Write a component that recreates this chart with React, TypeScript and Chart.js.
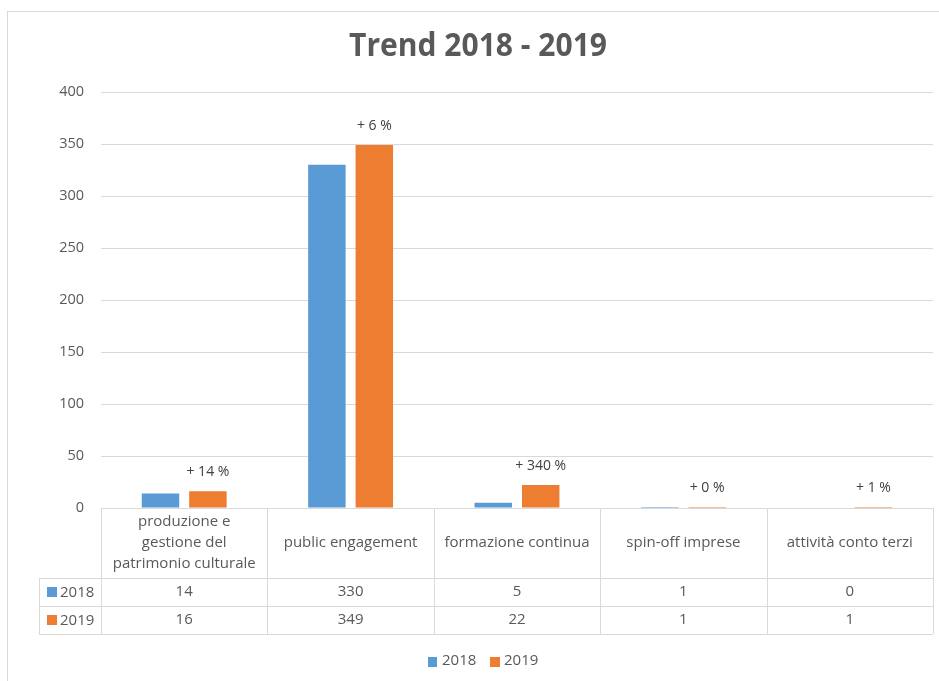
import React, { useEffect, useRef } from "react";
import { Chart, registerables } from "chart.js";

Chart.register(...registerables);

const categories: string[][] = [
  ["produzione e", "gestione del", "patrimonio culturale"],
  ["public engagement"],
  ["formazione continua"],
  ["spin-off imprese"],
  ["attività conto terzi"],
];
const seriesNames = ["2018", "2019"];
const values2018 = [14, 330, 5, 1, 0];
const values2019 = [16, 349, 22, 1, 1];
const changeLabels = ["+ 14 %", "+ 6 %", "+ 340 %", "+ 0 %", "+ 1 %"];
const yTicks = [0, 50, 100, 150, 200, 250, 300, 350, 400];
const title = "Trend 2018 - 2019";

const BLUE = "#5b9bd5";
const ORANGE = "#ed7d31";
const TEXT = "#595959";
const GRID = "#d9d9d9";
const BODY_FONT = "'Open Sans', 'Noto Sans', sans-serif";

// draw text horizontally condensed to mimic a narrow font
function drawCondensed(ctx: any, text: string, cx: number, cy: number, targetW: number) {
  const w = ctx.measureText(text).width;
  const s = Math.min(1, targetW / w);
  ctx.save();
  ctx.translate(cx, cy);
  ctx.scale(s, 1);
  ctx.fillText(text, 0, 0);
  ctx.restore();
}

const overlayPlugin = {
  id: "overlay",
  beforeDraw(chart: any) {
    const ctx = chart.ctx;
    ctx.save();
    ctx.fillStyle = "#ffffff";
    ctx.fillRect(0, 0, chart.width, chart.height);
    ctx.strokeStyle = GRID;
    ctx.lineWidth = 1;
    ctx.strokeRect(7.5, 11.5, chart.width + 10, chart.height + 10);
    ctx.restore();
  },
  afterDraw(chart: any) {
    const ctx = chart.ctx;
    const area = chart.chartArea;
    const xs = chart.scales.x;
    const colW = (area.right - area.left) / categories.length;
    ctx.save();
    // title
    ctx.fillStyle = TEXT;
    ctx.font = `bold 32px ${BODY_FONT}`;
    ctx.textAlign = "center";
    ctx.textBaseline = "middle";
    drawCondensed(ctx, title, 478, 47, 258);

    // change labels above 2019 bars
    const meta = chart.getDatasetMeta(1);
    ctx.font = `14px ${BODY_FONT}`;
    ctx.fillStyle = "#404040";
    changeLabels.forEach((lbl, i) => {
      const bar = meta.data[i];
      const w = ctx.measureText(lbl).width;
      drawCondensed(ctx, lbl, bar.x, bar.y - 19, w * 1.07);
    });

    // data table
    const top = area.bottom;
    const headerBottom = top + 70;
    const row1 = headerBottom + 28;
    const row2 = row1 + 28;
    const tableLeft = 39;
    ctx.strokeStyle = GRID;
    ctx.lineWidth = 1;
    const hl = (x1: number, x2: number, y: number) => {
      ctx.beginPath();
      ctx.moveTo(x1, Math.round(y) + 0.5);
      ctx.lineTo(x2, Math.round(y) + 0.5);
      ctx.stroke();
    };
    const vl = (x: number, y1: number, y2: number) => {
      ctx.beginPath();
      ctx.moveTo(Math.round(x) + 0.5, y1);
      ctx.lineTo(Math.round(x) + 0.5, y2);
      ctx.stroke();
    };
    hl(area.left, area.right, top);
    hl(tableLeft, area.right, headerBottom);
    hl(tableLeft, area.right, row1);
    hl(tableLeft, area.right, row2);
    vl(tableLeft, headerBottom, row2);
    for (let i = 0; i <= categories.length; i++) {
      vl(area.left + colW * i, top, row2);
    }
    ctx.fillStyle = TEXT;
    ctx.font = `15px ${BODY_FONT}`;
    categories.forEach((lines, i) => {
      const cx = xs.getPixelForValue(i);
      const lh = 21;
      const startY = (top + headerBottom) / 2 - ((lines.length - 1) * lh) / 2;
      lines.forEach((ln, j) => {
        const w = ctx.measureText(ln).width;
        drawCondensed(ctx, ln, cx, startY + j * lh, Math.min(w, 150));
      });
      ctx.fillText(String(values2018[i]), cx, (headerBottom + row1) / 2);
      ctx.fillText(String(values2019[i]), cx, (row1 + row2) / 2);
    });
    // row headers
    ctx.textAlign = "left";
    [BLUE, ORANGE].forEach((c, k) => {
      const cy = k === 0 ? (headerBottom + row1) / 2 : (row1 + row2) / 2;
      ctx.fillStyle = c;
      ctx.fillRect(47, cy - 5, 10, 10);
      ctx.fillStyle = TEXT;
      ctx.fillText(seriesNames[k], 60, cy + 1);
    });
    // legend
    const ly = 661;
    ctx.fillStyle = BLUE;
    ctx.fillRect(428, ly - 4, 9, 10);
    ctx.fillStyle = TEXT;
    ctx.fillText(seriesNames[0], 442, ly);
    ctx.fillStyle = ORANGE;
    ctx.fillRect(490, ly - 4, 10, 10);
    ctx.fillStyle = TEXT;
    ctx.fillText(seriesNames[1], 504, ly);
    ctx.restore();
  },
};

export default function App() {
  const ref = useRef<HTMLCanvasElement | null>(null);
  useEffect(() => {
    document.body.style.margin = "0";
    const chart = new Chart(ref.current as HTMLCanvasElement, {
      type: "bar",
      data: {
        labels: categories.map((c) => c.join(" ")),
        datasets: [
          {
            label: seriesNames[0],
            data: values2018,
            backgroundColor: BLUE,
            barPercentage: 0.79,
            categoryPercentage: 0.57,
          },
          {
            label: seriesNames[1],
            data: values2019,
            backgroundColor: ORANGE,
            barPercentage: 0.79,
            categoryPercentage: 0.57,
          },
        ],
      },
      options: {
        animation: false,
        responsive: false,
        maintainAspectRatio: false,
        layout: { padding: { left: 0, right: 6, top: 92, bottom: 173 } },
        plugins: {
          legend: { display: false },
          title: { display: false },
          tooltip: { enabled: false },
        },
        scales: {
          x: { display: false },
          y: {
            min: 0,
            max: 400,
            afterFit: (s: any) => {
              s.width = 101;
            },
            afterBuildTicks: (s: any) => {
              s.ticks = yTicks.map((v) => ({ value: v }));
            },
            border: { display: false },
            grid: { color: GRID, drawTicks: false },
            ticks: {
              padding: 17,
              color: TEXT,
              font: { family: BODY_FONT, size: 14.5 },
            },
          },
        },
      },
      plugins: [overlayPlugin],
    });
    return () => chart.destroy();
  }, []);
  return (
    <div style={{ position: "absolute", left: 0, top: 0, width: 939, height: 681 }}>
      <canvas ref={ref} width={939} height={681} style={{ width: 939, height: 681 }} />
    </div>
  );
}
